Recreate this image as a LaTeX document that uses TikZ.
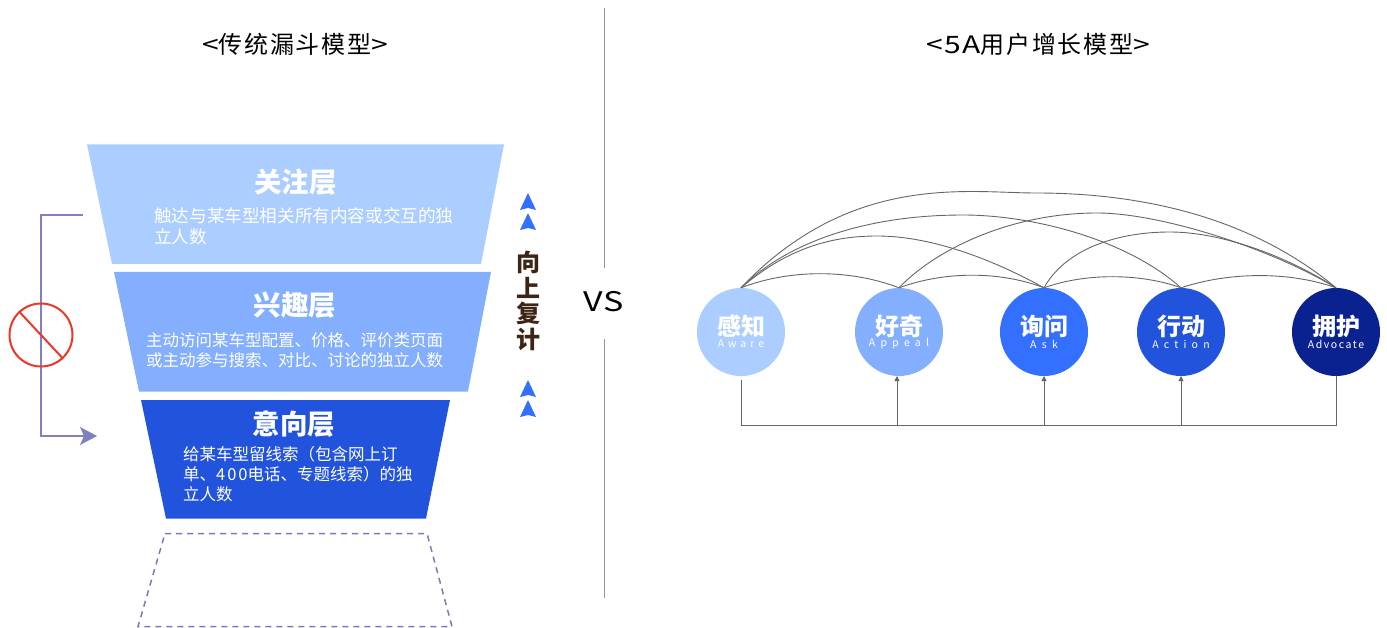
\documentclass[tikz,border=0pt]{standalone}
\usepackage{fontspec}
\setmainfont{Noto Sans CJK SC}
\newfontfamily\widelatin[FakeStretch=1.25,LetterSpace=6]{Noto Sans CJK SC}
\newfontfamily\widevs[FakeStretch=1.26,LetterSpace=4]{Noto Sans CJK SC}
\newfontfamily\spacedcjk[LetterSpace=7]{Noto Sans CJK SC}
\usetikzlibrary{arrows.meta,calc}
\definecolor{cA}{HTML}{ABCDFF}
\definecolor{cB}{HTML}{84AFFF}
\definecolor{cC}{HTML}{3370FF}
\definecolor{cD}{HTML}{2253DC}
\definecolor{cE}{HTML}{0A2290}
\definecolor{cPurple}{HTML}{8080BE}
\definecolor{cDash}{HTML}{7F78B8}
\definecolor{cRed}{HTML}{E8392B}
\definecolor{cBrown}{HTML}{3E2412}
\definecolor{cLine}{HTML}{666666}
\newcommand{\fs}[1]{\fontsize{#1}{#1}\selectfont}
\tikzset{
  x=1pt,y=-1pt,
  stage/.style={circle,minimum size=88pt,inner sep=0pt,fill=#1},
  headtxt/.style={text=white,font=\fs{27.5}\bfseries,inner sep=0pt,anchor=center},
  bodytxt/.style={text=white,inner sep=0pt,anchor=north west,align=left},
  cn/.style={text=white,font=\fs{24}\bfseries,inner sep=0pt},
  en/.style={text=white,font=\fs{10.5},inner sep=0pt},
  title/.style={font=\fs{24},inner sep=0pt,text=black},
  arc/.style={draw=cLine,line width=0.9pt},
  feed/.style={draw=cLine,line width=0.9pt},
  up/.style={fill=cC,draw=none},
  ghost/.style={draw=cDash,line width=1.5pt,dash pattern=on 6pt off 5pt},
}
\newcommand{\upmark}[2]{\fill[up] (#1,#2-9) -- (#1+8,#2+8) -- (#1,#2+6) -- (#1-8,#2+8) -- cycle;}
\begin{document}
\begin{tikzpicture}
\useasboundingbox (0,0) rectangle (1387,628);
% titles
\node[title] (t1) at (295,44) {{\widelatin <}{\spacedcjk 传统漏斗模型}{\widelatin >}};
\node[title] (t2) at (1038,44) {{\widelatin <5A}{\spacedcjk 用户增长模型}{\widelatin >}};
% divider
\coordinate (d1) at (604,8); \coordinate (d2) at (604,268);
\coordinate (d3) at (604,339); \coordinate (d4) at (604,598);
\draw[cLine!70,line width=0.9pt] (d1) -- (d2) (d3) -- (d4);
\node[inner sep=0pt,font=\fs{27}\widevs] (vs) at (604,302) {VS};
% funnel
\fill[cA] (87,144.5) -- (504,144.5) -- (481,264) -- (112,264) -- cycle;
\fill[cB] (114,272) -- (491,272) -- (468,391.5) -- (139,391.5) -- cycle;
\fill[cD] (141,400) -- (450,400) -- (426,518.5) -- (166,518.5) -- cycle;
\draw[ghost] (165,533.5) -- (427,533.5) -- (452,626.5) -- (138,626.5) -- cycle;
\node[headtxt] (h1) at (295.5,182) {关注层};
\node[bodytxt,font={\fontsize{17.6}{21}\selectfont}] (b1) at (154,207) {触达与某车型相关所有内容或交互的独\\立人数};
\node[headtxt] (h2) at (295,305) {兴趣层};
\node[bodytxt,font={\fontsize{16.5}{20.5}\selectfont}] (b2) at (146,332) {主动访问某车型配置、价格、评价类页面\\或主动参与搜索、对比、讨论的独立人数};
\node[headtxt] (h3) at (294,424) {意向层};
\node[bodytxt,font={\fontsize{16.5}{20}\selectfont}] (b3) at (183,446) {给某车型留线索（包含网上订\\单、{\addfontfeature{LetterSpace=12}400}电话、专题线索）的独\\立人数};
% skip connector
\coordinate (s0) at (83,215);
\coordinate (s1) at (41,215);
\coordinate (s2) at (41,436);
\coordinate (s3) at (97,436);
\draw[cPurple,line width=1.8pt,-{Stealth[length=17pt,width=18pt,inset=4pt]}] (s0) -- (s1) -- (s2) -- (s3);
\node[circle,draw=cRed,line width=2pt,minimum size=63pt,inner sep=0pt] (no) at (41,335) {};
\draw[cRed,line width=2pt] (no.133) -- (no.-47);
% up marks
\upmark{528}{202}\upmark{528}{222}\upmark{528}{389}\upmark{528}{409}
\node[text=cBrown,font={\fontsize{24}{25.4}\selectfont\bfseries},align=center,inner sep=0pt] (up) at (528,301) {向\\上\\复\\计};
% stages
\node[stage=cA] (a) at (741,332) {};
\node[stage=cB] (b) at (899,332) {};
\node[stage=cC] (c) at (1044,332) {};
\node[stage=cD] (d) at (1181,332) {};
\node[stage=cE] (e) at (1336,332) {};
\node[cn] at (741,326) {感知};
\node[cn] at (899,326) {好奇};
\node[cn] at (1044,326) {询问};
\node[cn] at (1181,326) {行动};
\node[cn] at (1336,326) {拥护};
\node[en] at (741,344) {\addfontfeature{LetterSpace=38}Aware};
\node[en] at (899,344) {\addfontfeature{LetterSpace=50}Appeal};
\node[en] at (1044,344) {\addfontfeature{LetterSpace=50}Ask};
\node[en] at (1181,344) {\addfontfeature{LetterSpace=50}Action};
\node[en] at (1336,344) {\addfontfeature{LetterSpace=15}Advocate};
% arcs
\draw[arc] (a.north) .. controls (790,269) and (850,269) .. (b.north);
\draw[arc] (b.north) .. controls (945,271) and (1000,271) .. (c.north);
\draw[arc] (c.north) .. controls (1085,273) and (1140,273) .. (d.north);
\draw[arc] (d.north) .. controls (1230,271.5) and (1290,271.5) .. (e.north);
\draw[arc] (a.north) .. controls (790,246) and (835,236) .. (877,236) .. controls (930,236) and (990,258) .. (c.north);
\draw[arc] (a.north) .. controls (790,240) and (870,215) .. (963,215) .. controls (1030,215) and (1125,238) .. (d.north);
\draw[arc] (a.north) .. controls (851,172) and (968,193) .. (1036,193) .. controls (1130,193) and (1245,212) .. (e.north);
\draw[arc] (b.north) .. controls (935,250) and (1010,213) .. (1097,213) .. controls (1160,213) and (1270,248) .. (e.north);
\draw[arc] (c.north) .. controls (1065,250) and (1115,232) .. (1170,232) .. controls (1220,232) and (1285,255) .. (e.north);
% feedback
\coordinate (f0) at ($(a.south)+(0,4)$);
\coordinate (fe) at (1336,425);
\draw[feed] (f0) -- (741,425) -- (fe) -- (e.south);
\foreach \n/\x in {b/897,c/1044,d/1181}
  \draw[feed,-{Triangle[length=5pt,width=5pt]}] (\x,425) -- (\x,376);
\end{tikzpicture}
\end{document}
